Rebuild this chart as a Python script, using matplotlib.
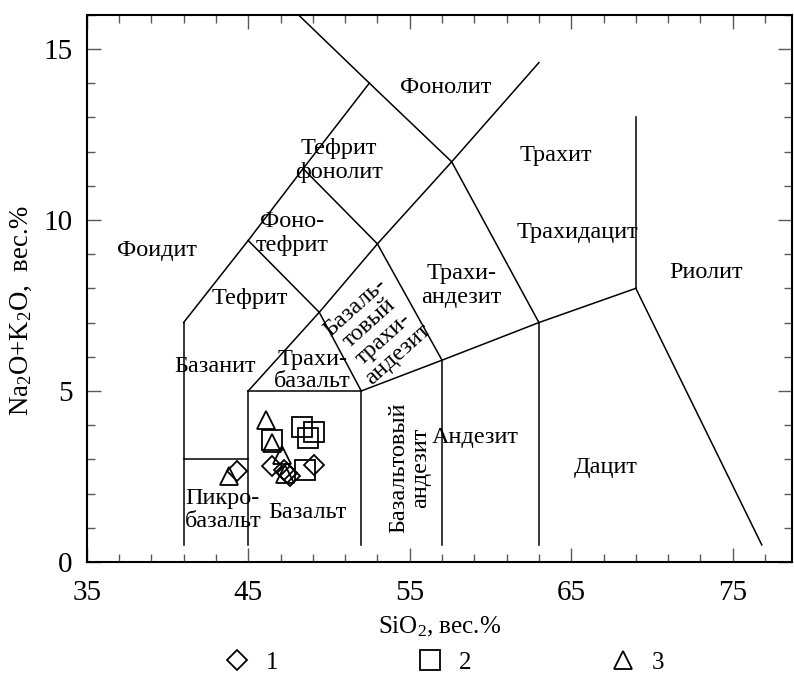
import matplotlib
matplotlib.use("Agg")
import matplotlib.pyplot as plt
from matplotlib.ticker import MultipleLocator, FixedLocator

plt.rcParams['font.family'] = ['Liberation Serif', 'DejaVu Serif']
plt.rcParams['mathtext.fontset'] = 'custom'
plt.rcParams['mathtext.rm'] = 'Liberation Serif'
plt.rcParams['mathtext.it'] = 'Liberation Serif:italic'

# Sample compositions (SiO2, Na2O+K2O), wt.%
g1_sio2 = [44.3, 46.5, 47.4, 47.6, 47.2, 49.1]
g1_alk = [2.65, 2.8, 2.6, 2.52, 2.7, 2.85]
g2_sio2 = [48.3, 49.1, 48.7, 46.5, 48.5]
g2_alk = [3.95, 3.8, 3.62, 3.57, 2.7]
g3_sio2 = [46.1, 46.5, 47.1, 47.3, 43.8]
g3_alk = [4.15, 3.47, 3.13, 2.56, 2.5]

# TAS classification boundaries
boundaries = [
    [(41, 0.5), (41, 7)],
    [(41, 3), (45, 3)],
    [(45, 0.5), (45, 5)],
    [(45, 5), (52, 5)],
    [(52, 0.5), (52, 5)],
    [(57, 0.5), (57, 5.9)],
    [(63, 0.5), (63, 7)],
    [(69, 8), (76.8, 0.5)],
    [(69, 8), (69, 13)],
    [(52, 5), (57, 5.9), (63, 7), (69, 8)],
    [(45, 5), (49.4, 7.3), (53, 9.3), (57.6, 11.7), (63, 14.6)],
    [(52, 5), (49.4, 7.3), (45, 9.4), (41, 7)],
    [(57, 5.9), (53, 9.3), (48.4, 11.5), (45, 9.4)],
    [(63, 7), (57.6, 11.7), (52.5, 14), (48.4, 11.5)],
    [(52.5, 14), (48.1, 16)],
]

# field names: text, x, y, rotation, alignment, line spacing
fields = [
    ("Фоидит", 39.35, 9.1, 0, 'center', 1.2),
    ("Тефрит", 45.1, 7.7, 0, 'center', 1.2),
    ("Базанит", 42.95, 5.72, 0, 'center', 1.2),
    ("Пикро-\nбазальт", 41.1, 1.52, 0, 'left', 1.08),
    ("Базальт", 48.65, 1.46, 0, 'center', 1.2),
    ("Трахи-\nбазальт", 48.96, 5.6, 0, 'center', 1.03),
    ("Андезит", 59.04, 3.65, 0, 'center', 1.2),
    ("Дацит", 67.16, 2.75, 0, 'center', 1.2),
    ("Риолит", 73.35, 8.47, 0, 'center', 1.2),
    ("Трахидацит", 65.37, 9.64, 0, 'center', 1.2),
    ("Трахит", 64.07, 11.89, 0, 'center', 1.2),
    ("Фонолит", 57.2, 13.88, 0, 'center', 1.2),
    ("Тефрит\nфонолит", 50.6, 11.73, 0, 'center', 1.2),
    ("Фоно-\nтефрит", 47.7, 9.6, 0, 'center', 1.2),
    ("Трахи-\nандезит", 58.2, 8.09, 0, 'center', 1.2),
    ("Базальтовый\nандезит", 55.0, 2.75, 90, 'center', 1.0),
    ("Базаль-\nтовый\nтрахи-\nандезит", 52.95, 6.75, 42, 'center', 1.0),
]

fig = plt.figure(figsize=(7.94, 6.75), dpi=100)
ax = fig.add_axes([86.7 / 794, 1 - 562 / 675, (792 - 86.7) / 794, (562 - 14.7) / 675])
ax.set_xlim(35, 78.67)
ax.set_ylim(0, 16)

for seg in boundaries:
    xs, ys = zip(*seg)
    ax.plot(xs, ys, color='black', lw=1.1, solid_joinstyle='miter')

for text, x, y, rot, ha, ls in fields:
    ax.text(x, y, text, fontsize=17.5, ha=ha, va='center', rotation=rot,
            rotation_mode='anchor', linespacing=ls,
            multialignment='center' if ha == 'center' else 'left')

mk = dict(linestyle='none', markerfacecolor='none', markeredgecolor='black', markeredgewidth=1.3)
h1, = ax.plot(g1_sio2, g1_alk, marker='D', markersize=10, **mk)
h2, = ax.plot(g2_sio2, g2_alk, marker='s', markersize=14, **mk)
h3, = ax.plot(g3_sio2, g3_alk, marker='^', markersize=13, **mk)

ax.xaxis.set_major_locator(FixedLocator([35, 45, 55, 65, 75]))
ax.xaxis.set_minor_locator(MultipleLocator(2, offset=1))
ax.yaxis.set_major_locator(MultipleLocator(5))
ax.yaxis.set_minor_locator(MultipleLocator(1))
ax.tick_params(which='both', direction='in', top=True, right=True, color='0.35', width=1.0)
ax.tick_params(which='major', length=10, labelsize=21)
ax.tick_params(axis='x', which='major', pad=13)
ax.tick_params(axis='y', which='major', pad=10)
ax.tick_params(which='minor', length=6)
for s in ax.spines.values():
    s.set_linewidth(1.5)

ax.set_xlabel('SiO$_2$, вес.%', fontsize=18, labelpad=6)
ax.set_ylabel('Na$_2$O+K$_2$O,  вес.%', fontsize=19.3)
ax.yaxis.set_label_coords(-0.075, 0.46)

ax.legend([h1, h2, h3], ['1', '2', '3'], ncol=3, loc='center',
          bbox_to_anchor=(0.507, -0.184), frameon=False, fontsize=18,
          handlelength=1.0, handletextpad=0.66, columnspacing=5.55,
          markerscale=1.0, borderpad=0.1)

fig.savefig('out.png', dpi=100)
